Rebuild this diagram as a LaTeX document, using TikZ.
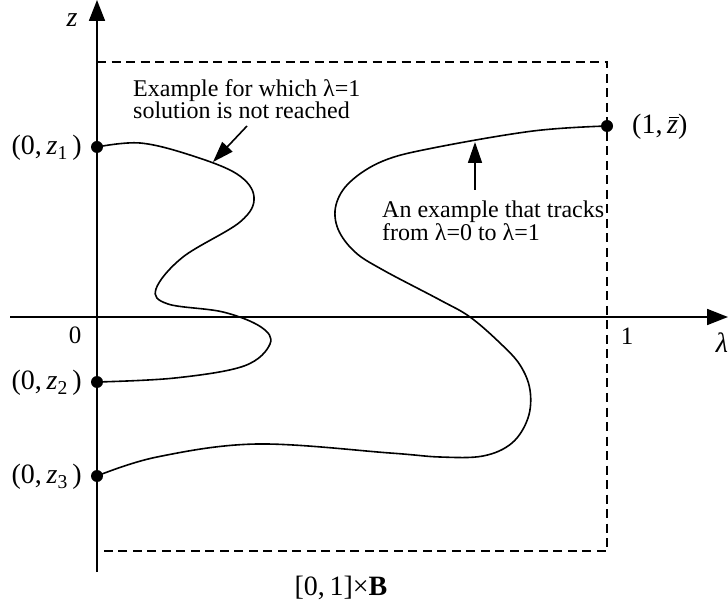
\documentclass[tikz,border=0pt]{standalone}
\usepackage{fontspec}
\setmainfont{Liberation Serif}
\usetikzlibrary{arrows.meta}
\begin{document}
\begin{tikzpicture}[x=1pt,y=-1pt,
  axis/.style={line width=1.8pt,-{Triangle[length=21pt,width=16pt]}},
  curve/.style={line width=1.6pt},
  box/.style={line width=1.4pt,dash pattern=on 9pt off 5.5pt},
  pointer/.style={line width=1.6pt,-{Triangle[length=21pt,width=14pt]}},
  dot/.style={circle,fill=black,inner sep=0pt,minimum size=12pt},
  lab/.style={font=\fontsize{28}{30}\selectfont,inner sep=0pt},
  txt/.style={font=\fontsize{24}{22}\selectfont,align=left,inner sep=0pt},
  num/.style={font=\fontsize{25}{27}\selectfont,inner sep=0pt}]
\useasboundingbox (0,0) rectangle (728,609);
% axes
\coordinate (ztop) at (97,0);
\coordinate (zbot) at (97,572);
\coordinate (lleft) at (10,317);
\coordinate (lright) at (728,317);
\draw[axis] (zbot) -- (ztop);
\draw[axis] (lleft) -- (lright);
% dashed box
\coordinate (bTL) at (97,62);
\coordinate (bTR) at (607,62);
\coordinate (bBR) at (607,551);
\coordinate (bBL) at (97,551);
\draw[box] (bTL) -- (bTR) -- (bBR) -- (bBL);
% dots
\node[dot] (p1) at (97,147) {};
\node[dot] (p2) at (97,382) {};
\node[dot] (p3) at (97,476) {};
\node[dot] (pz) at (607,126) {};
% curve 1
\draw[curve] plot[smooth,tension=0.6] coordinates {(p1.center) (140,143) (190,155) (237,174) (254,197) (240,222) (183,257) (156,289) (168,304) (223,312) (261,327) (270,344) (244,366) (175,378) (p2.center)};
% curve 2
\draw[curve] plot[smooth,tension=0.6] coordinates {(p3.center) (157,457) (257,444) (390,453) (440,457) (483,456) (512,443) (528,418) (530,390) (520,365) (500,343) (470,317) (440,300) (383,270) (355,252) (338,229) (336,205) (350,182) (383,161) (433,148) (533,131) (pz.center)};
% pointers
\coordinate (a1s) at (247,126);
\coordinate (a1t) at (213,162);
\draw[pointer] (a1s) -- (a1t);
\coordinate (a2s) at (475,190);
\coordinate (a2t) at (475,142);
\draw[pointer] (a2s) -- (a2t);
% texts
\node[txt,anchor=west] (t1) at (133,99) {Example for which λ=1\\solution is not reached};
\node[txt,anchor=west] (t2) at (382,221) {An example that tracks\\from λ=0 to λ=1};
% labels
\node[lab,anchor=east] (l1) at (82,148) {(0,\,\textit{z}\textsubscript{1}\,)};
\node[lab,anchor=east] (l2) at (82,383) {(0,\,\textit{z}\textsubscript{2}\,)};
\node[lab,anchor=east] (l3) at (82,477) {(0,\,\textit{z}\textsubscript{3}\,)};
\node[lab,anchor=west] (lzb) at (632,127) {(1,\,\makebox[0pt][l]{\hspace{0.06em}\rule[0.56em]{0.36em}{0.05em}}\textit{z})};
\node[lab] (lz) at (72,20) {\textit{z}};
\node[lab] (ll) at (722,343) {\textit{λ}};
\node[num] (n0) at (75,335) {0};
\node[num] (n1) at (627,336) {1};
\node[lab] (lb) at (341,588) {[0,\,1]×\textbf{B}};
\end{tikzpicture}
\end{document}
